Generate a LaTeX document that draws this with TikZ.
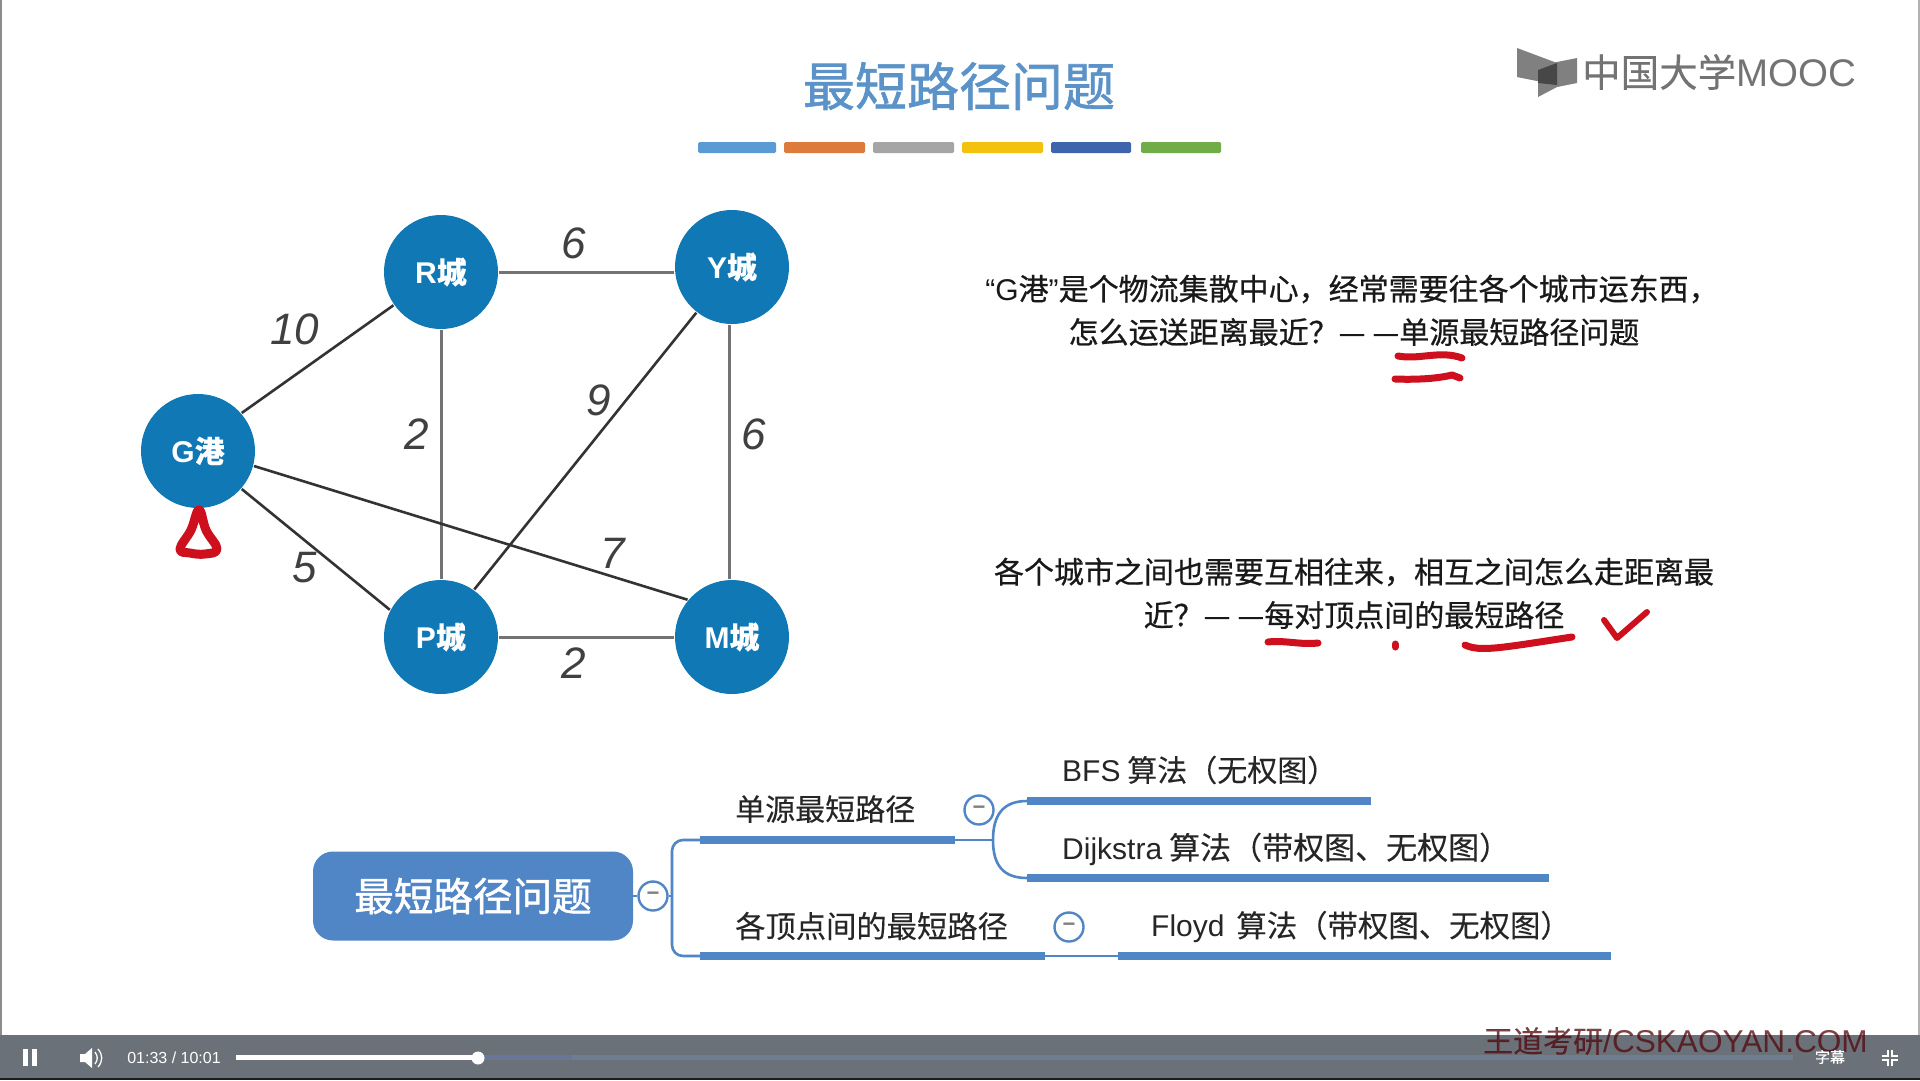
\documentclass[tikz,border=0pt]{standalone}
\usepackage{fontspec}
\usepackage{tikz}
\usetikzlibrary{calc}
\usepackage{xcolor}
\setmainfont{Liberation Sans}
\newfontfamily\lat{Liberation Sans}
\newfontfamily\cjk[FakeBold=0.2]{Noto Sans CJK SC}
\newfontfamily\cjkm[FakeBold=0.6]{Noto Sans CJK SC}
\newfontfamily\cjkb[FakeBold=1.2]{Noto Sans CJK SC}
\definecolor{C0}{HTML}{1078B4}
\definecolor{C1}{HTML}{5B93C9}
\definecolor{C2}{HTML}{5085C6}
\definecolor{C3}{HTML}{CE0F1E}
\definecolor{C4}{HTML}{6A7178}
\definecolor{C5}{HTML}{707C92}
\definecolor{S1}{HTML}{5B9BD5}
\definecolor{S2}{HTML}{DC7B3C}
\definecolor{S3}{HTML}{A5A5A5}
\definecolor{S4}{HTML}{F2C20F}
\definecolor{S5}{HTML}{3F64AE}
\definecolor{S6}{HTML}{70AD47}
\def\dashes{—\kern7pt—}
\tikzset{
  city/.style={circle,fill=C0,text=white,minimum size=114pt,inner sep=0pt,outer sep=1pt,font=\lat\bfseries\fontsize{30}{36}\selectfont},
  weight/.style={font=\lat\itshape\fontsize{44}{50}\selectfont,text=black!75,inner sep=0pt},
  grayedge/.style={color=black!55,line width=3pt},
  darkedge/.style={color=black!80,line width=2.6pt},
  para/.style={font=\cjkm\fontsize{30}{36}\selectfont,inner sep=0pt,text=black!90},
  leaf/.style={font=\cjk\fontsize{30}{36}\selectfont,anchor=west,inner sep=0pt,text=black!85},
  bar/.style={color=C2,line width=7.5pt},
  thin/.style={color=C2,line width=2.6pt},
  fold/.style={circle,draw=C2,line width=2.4pt,fill=white,minimum size=29pt,inner sep=0pt,text=black!50,font=\lat\bfseries\fontsize{22}{22}\selectfont},
  pen/.style={color=C3,line width=7pt,line cap=round,line join=round},
  swatch/.style={rounded corners=1.5pt},
}

\begin{document}
\begin{tikzpicture}[x=1pt,y=-1pt]
\useasboundingbox (0,0) rectangle (1920,1080);
\fill[white] (0,0) rectangle (1920,1080);
\fill[black!45] (0,0) rectangle (2,1035);
\fill[black!30] (1918,0) rectangle (1920,1035);

\node[font=\cjkb\fontsize{52}{60}\selectfont,text=C1,inner sep=0pt] (title) at (959,86) {最短路径问题};
\fill[S1,swatch] (698,142) rectangle (776,153);
\fill[S2,swatch] (784,142) rectangle (865,153);
\fill[S3,swatch] (873,142) rectangle (954,153);
\fill[S4,swatch] (962,142) rectangle (1043,153);
\fill[S5,swatch] (1051,142) rectangle (1131,153);
\fill[S6,swatch] (1141,142) rectangle (1221,153);

\fill[black!50] (1517,48)--(1557,63)--(1557,85)--(1517,77)--cycle;
\fill[black!50] (1538,70)--(1557,62)--(1577,58)--(1577,83)--(1557,87)--(1538,97)--cycle;
\fill[black!72] (1538,70)--(1557,63)--(1557,85)--(1538,83)--cycle;
\node[anchor=west,inner sep=0pt,text=black!55] (logo) at (1582,72) {\cjk\fontsize{38.5}{44}\selectfont 中国大学\lat MOOC};

\node[city] (G) at (198,451) {G{\cjk 港}};
\node[city] (R) at (441,272) {R{\cjk 城}};
\node[city] (Y) at (732,267) {Y{\cjk 城}};
\node[city] (P) at (441,637) {P{\cjk 城}};
\node[city] (M) at (732,637) {M{\cjk 城}};

\draw[grayedge] (R.east |- 0,272) -- (Y.west |- 0,272);
\draw[grayedge] (R.south) -- (P.north);
\draw[grayedge] (Y.-92) -- (M.92);
\draw[grayedge] (P) -- (M);
\draw[darkedge] (G.41) -- (R.215);
\draw[darkedge] (G.-41) -- (P.152);
\draw[darkedge] (G.-15) -- (M.140);
\draw[darkedge] (Y.232) -- (P.55);

\node[weight] (w1) at (295,329) {10};
\node[weight] (w2) at (574,243) {6};
\node[weight] (w3) at (417,434) {2};
\node[weight] (w4) at (599,400) {9};
\node[weight] (w5) at (754,434) {6};
\node[weight] (w6) at (613,553) {7};
\node[weight] (w7) at (305,568) {5};
\node[weight] (w8) at (574,663) {2};

\node[para] (t1) at (1352,289) {{\lat “G}港{\lat ”}是个物流集散中心，经常需要往各个城市运东西，};
\node[para] (t2) at (1354,332) {怎么运送距离最近？\dashes 单源最短路径问题};
\node[para] (t3) at (1354,572) {各个城市之间也需要互相往来，相互之间怎么走距离最};
\node[para] (t4) at (1354,615) {近？\dashes 每对顶点间的最短路径};

\node[rounded corners=20pt,fill=C2,text=white,minimum width=320pt,minimum height=89pt,inner sep=0pt,font=\cjkb\fontsize{39.6}{44}\selectfont] (root) at (473,896) {最短路径问题};
\node[fold] (f0) at (653,896) {−};
\node[fold] (f1) at (979,810) {−};
\node[fold] (f2) at (1069,927) {−};

\coordinate (j0) at (672,896);
\coordinate (a1) at (700,840);
\coordinate (b1) at (955,840);
\coordinate (a2) at (700,956);
\coordinate (b2) at (1045,956);
\coordinate (a3) at (1027,801);
\coordinate (b3) at (1371,801);
\coordinate (a4) at (1027,878);
\coordinate (b4) at (1549,878);
\coordinate (a5) at (1118,956);
\coordinate (b5) at (1611,956);
\coordinate (j1) at (993,840);

\draw[thin] (root) -- (f0);
\draw[thin] (f0) -- (j0);
\draw[thin,rounded corners=11pt] (a1) -| (j0) |- (a2);
\draw[thin] (b1) -- (j1);
\draw[thin] (j1) .. controls (993,815) and (1003,801) .. (a3);
\draw[thin] (j1) .. controls (993,865) and (1003,878) .. (a4);
\draw[thin] (b2) -- (a5);
\draw[bar] (a1) -- (b1);
\draw[bar] (a2) -- (b2);
\draw[bar] (a3) -- (b3);
\draw[bar] (a4) -- (b4);
\draw[bar] (a5) -- (b5);

\node[leaf] (n1) at (735,809) {单源最短路径};
\node[leaf,font=\cjk\fontsize{30.3}{36}\selectfont] (n2) at (735,926) {各顶点间的最短路径};
\node[leaf] (n3) at (1062,770) {{\lat BFS} 算法（无权图）};
\node[leaf,font=\cjk\fontsize{31}{36}\selectfont] (n4) at (1062,849) {{\lat\fontsize{30}{36}\selectfont Dijkstra} 算法（带权图、无权图）};
\node[leaf,font=\cjk\fontsize{30.4}{36}\selectfont] (n5) at (1151,927) {{\lat\fontsize{30}{36}\selectfont Floyd}\kern5pt{} 算法（带权图、无权图）};

\draw[pen,line width=9pt] plot[smooth cycle,tension=0.7] coordinates {(199,510) (206,530) (217,549) (205,554) (190,553) (180,549) (191,530)};
\draw[pen] (1398,356) .. controls (1420,360) and (1440,350) .. (1462,358);
\draw[pen] (1395,379) .. controls (1420,380) and (1440,378) .. (1452,375) -- (1460,378);
\draw[pen] (1268,642) .. controls (1285,640) and (1300,645) .. (1318,643);
\draw[pen] (1395,644) -- (1395,647);
\draw[pen] (1465,645) .. controls (1480,652) and (1500,648) .. (1572,637);
\draw[pen,line width=6pt] (1604,620) -- (1617,638) -- (1647,612);

\fill[C4] (0,1035) rectangle (1920,1080);
\fill[black!75!C4] (0,1078) rectangle (1920,1080);
\fill[white] (23,1049) rectangle (28,1066);
\fill[white] (32,1049) rectangle (37,1066);
\fill[white] (80,1054) -- (85,1054) -- (92,1048) -- (92,1068) -- (85,1062) -- (80,1062) -- cycle;
\draw[white,line width=1.3pt] (95,1052) .. controls (98,1056) and (98,1060) .. (95,1064);
\draw[white,line width=1.3pt] (98,1049) .. controls (103,1055) and (103,1061) .. (98,1067);
\node[text=white,font=\lat\fontsize{16}{18}\selectfont,inner sep=0pt] (clock) at (174,1058) {01:33 / 10:01};
\fill[C5] (478,1055) rectangle (1793,1060);
\fill[C5!95!blue] (484,1055) rectangle (572,1060);
\fill[white] (236,1055) rectangle (478,1060);
\fill[white] (478,1058) circle (6.5pt);
\node[anchor=west,inner sep=0pt,text=C3!40!black,opacity=0.75,font=\cjk\fontsize{30}{34}\selectfont] (mark) at (1483,1041) {王道考研{\lat\fontsize{31.6}{34}\selectfont /CSKAOYAN.COM}};
\node[text=white,font=\cjk\fontsize{15}{16}\selectfont,inner sep=0pt] (sub) at (1830,1057) {字幕};
\foreach \sx/\sy in {-1/-1,1/-1,-1/1,1/1}
  \draw[white,line width=2.6pt] ({1890+\sx*8},{1058+\sy*2}) -| ({1890+\sx*2},{1058+\sy*8});
\end{tikzpicture}
\end{document}
